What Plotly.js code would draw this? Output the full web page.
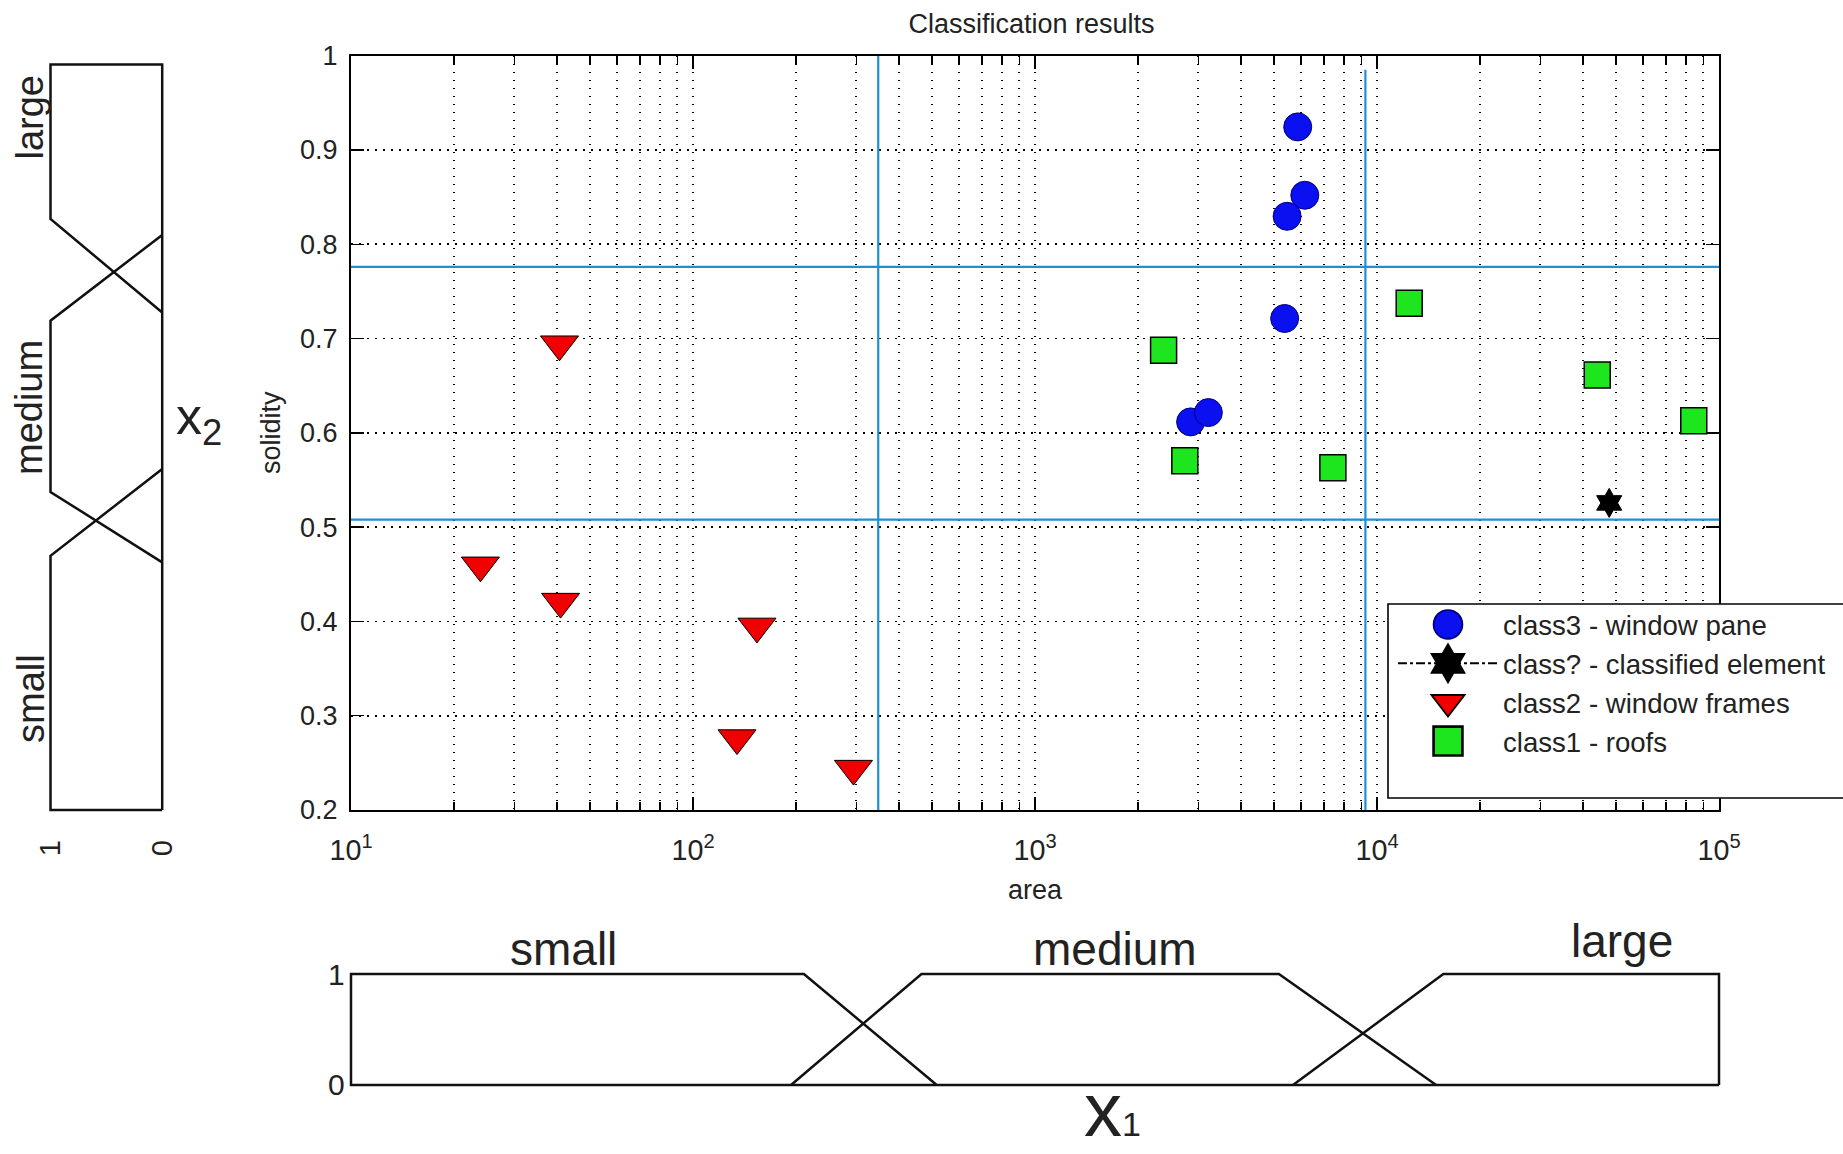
<!DOCTYPE html>
<html>
<head>
<meta charset="utf-8">
<script src="https://cdn.plot.ly/plotly-3.0.1.min.js"></script>
<style>
  html, body { margin: 0; padding: 0; background: #ffffff; }
  #chart { width: 1843px; height: 1154px; }
</style>
</head>
<body>
<div id="chart"></div>
<script>
// ---- measured objects: area (px^2) vs solidity ----
const areaClass3 = [5864, 6150, 5460, 5370, 2851, 3213];
const solidityClass3 = [0.9245, 0.852, 0.8297, 0.7213, 0.6116, 0.6215];

const areaUnknown = [47750];
const solidityUnknown = [0.5257];

const areaClass2 = [40.7, 23.9, 41.0, 153.8, 134.5, 294.6];
const solidityClass2 = [0.694, 0.4595, 0.421, 0.3947, 0.2763, 0.2439];

const areaClass1 = [2377, 2742, 7430, 12420, 44060, 84370];
const solidityClass1 = [0.6876, 0.5704, 0.563, 0.7374, 0.6614, 0.6128];

const legendNames = [
  'class3 - window pane',
  'class? - classified element',
  'class2 - window frames',
  'class1 - roofs'
];

// ---- decision thresholds (crossings of the membership functions) ----
const areaCuts = [348, 9250];
const solidityCuts = [0.508, 0.776];

// ---- fuzzy membership functions for x1 = area ----
const areaSmallMF = [516, 211, 10, 10, 100000];
const muSmallMF = [0, 1, 1, 0, 0];
const areaMediumMF = [193.5, 465.7, 5165, 14890];
const muMediumMF = [0, 1, 1, 0];
const areaLargeMF = [5680, 15630, 100000, 100000];
const muLargeMF = [0, 1, 1, 0];

// ---- fuzzy membership functions for x2 = solidity ----
const solidityLargeMF = [0.2, 0.9906, 0.9906, 0.8268, 0.7277];
const muLargeMF2 = [0, 0, 1, 1, 0];
const solidityMediumMF = [0.8099, 0.719, 0.5373, 0.4626];
const muMediumMF2 = [0, 1, 1, 0];
const soliditySmallMF = [0.5617, 0.4695, 0.2, 0.2];
const muSmallMF2 = [0, 1, 1, 0];

const membershipTicks = [0, 1];
const membershipTickText = ['0', '1'];
const termLabels = ['small', 'medium', 'large'];

// ---- page geometry helpers (pixels -> paper fractions) ----
const W = 1843, H = 1154;
const fx = px => px / W;
const fy = py => 1 - py / H;

const FONT = 'Liberation Sans, Arial, Helvetica, sans-serif';
const INK = '#222222';
const CUT_BLUE = '#1e8fd0';
const MF_STYLE = { color: '#111111', width: 2.5 };
const GRID = { gridcolor: '#000000', gridwidth: 1.7, griddash: '1.7px,6.3px' };

const traces = [];

// threshold lines on the main axes
traces.push({
  x: [areaCuts[0], areaCuts[0]], y: [0.2, 1.0], mode: 'lines',
  line: { color: CUT_BLUE, width: 2.2 }, showlegend: false, hoverinfo: 'skip'
});
traces.push({
  x: [areaCuts[1], areaCuts[1]], y: [0.2, 0.985], mode: 'lines',
  line: { color: CUT_BLUE, width: 2.2 }, showlegend: false, hoverinfo: 'skip'
});
solidityCuts.forEach(s => traces.push({
  x: [10, 100000], y: [s, s], mode: 'lines',
  line: { color: CUT_BLUE, width: 2.2 }, showlegend: false, hoverinfo: 'skip'
}));

// class markers
traces.push({
  x: areaClass3, y: solidityClass3, name: legendNames[0], mode: 'markers',
  marker: { symbol: 'circle', size: 28, color: '#0a10f0', line: { color: '#00007a', width: 1 } }
});
traces.push({
  x: areaUnknown, y: solidityUnknown, name: legendNames[1], mode: 'lines+markers',
  line: { color: '#000000', width: 2, dash: 'dashdot' },
  marker: { symbol: 'hexagram', size: 22, color: '#000000', line: { color: '#000000', width: 1 } }
});
traces.push({
  x: areaClass2, y: solidityClass2, name: legendNames[2], mode: 'markers',
  marker: { symbol: 'triangle-down', size: 33, color: '#f00000', line: { color: '#000000', width: 1 } }
});
traces.push({
  x: areaClass1, y: solidityClass1, name: legendNames[3], mode: 'markers',
  marker: { symbol: 'square', size: 26, color: '#1ee61e', line: { color: '#000000', width: 1.5 } }
});

// membership functions of area (bottom strip)
[[areaSmallMF, muSmallMF], [areaMediumMF, muMediumMF], [areaLargeMF, muLargeMF]].forEach(([a, m]) => {
  traces.push({ x: a, y: m, xaxis: 'x2', yaxis: 'y2', mode: 'lines', line: MF_STYLE,
    showlegend: false, hoverinfo: 'skip' });
});

// membership functions of solidity (left strip)
[[muLargeMF2, solidityLargeMF], [muMediumMF2, solidityMediumMF], [muSmallMF2, soliditySmallMF]].forEach(([m, s]) => {
  traces.push({ x: m, y: s, xaxis: 'x3', yaxis: 'y3', mode: 'lines', line: MF_STYLE,
    showlegend: false, hoverinfo: 'skip' });
});

const layout = {
  width: W, height: H,
  margin: { l: 0, r: 0, t: 0, b: 0 },
  paper_bgcolor: '#ffffff', plot_bgcolor: '#ffffff',
  font: { family: FONT, color: INK, size: 27 },
  showlegend: true,
  title: {
    text: 'Classification results', font: { size: 27, color: INK },
    x: fx(1031.5), xanchor: 'center', y: fy(24), yanchor: 'middle', xref: 'paper', yref: 'paper'
  },
  xaxis: {
    type: 'log', range: [1, 5], domain: [fx(351), fx(1719)], anchor: 'y',
    dtick: 1, exponentformat: 'power', labelalias: { '10': '10<sup>1</sup>' },
    tickfont: { size: 23, color: INK },
    ticks: 'inside', ticklen: 13, tickwidth: 1.5, tickcolor: '#000',
    showline: true, linecolor: '#000', linewidth: 2, mirror: 'ticks',
    showgrid: true, ...GRID, zeroline: false,
    minor: { dtick: 'D1', ticks: 'inside', ticklen: 8, tickwidth: 1.3, tickcolor: '#000',
             showgrid: true, ...GRID },
    ticklabelstandoff: 15,
    title: { text: 'area', font: { size: 27, color: INK }, standoff: 15 }
  },
  yaxis: {
    range: [0.2, 1], domain: [fy(810), fy(55.7)], anchor: 'x',
    tick0: 0.2, dtick: 0.1, tickfont: { size: 27, color: INK },
    ticks: 'inside', ticklen: 13, tickwidth: 1.5, tickcolor: '#000',
    showline: true, linecolor: '#000', linewidth: 2, mirror: 'ticks',
    showgrid: true, ...GRID, zeroline: false,
    ticklabelstandoff: 6,
    title: { text: 'solidity', font: { size: 27, color: INK }, standoff: 12 }
  },
  xaxis2: {
    type: 'log', range: [0.99, 5.01], domain: [fx(351 - 3.42), fx(1719 + 3.42)], anchor: 'y2',
    visible: false, showgrid: false, zeroline: false
  },
  yaxis2: {
    range: [-0.05, 1.05], domain: [fy(1090.5), fy(968.5)], anchor: 'x2',
    tickmode: 'array', tickvals: membershipTicks, ticktext: membershipTickText,
    ticks: '', showline: false, showgrid: false, zeroline: false,
    tickfont: { size: 30, color: INK }, ticklabelstandoff: 2
  },
  xaxis3: {
    range: [1.03, -0.03], domain: [fx(50.5 - 3.35), fx(162.2 + 3.35)], anchor: 'y3',
    tickmode: 'array', tickvals: membershipTicks, ticktext: membershipTickText,
    tickangle: -90, ticks: '', showline: false, showgrid: false, zeroline: false,
    tickfont: { size: 29, color: INK }, ticklabelstandoff: 14
  },
  yaxis3: {
    range: [0.19, 1], domain: [fy(819.4), fy(55.7)], anchor: 'x3',
    visible: false, showgrid: false, zeroline: false
  },
  legend: {
    x: fx(1393), y: fy(600), xanchor: 'left', yanchor: 'top',
    bgcolor: 'rgba(0,0,0,0)', borderwidth: 0,
    font: { size: 27.6, color: INK }, itemwidth: 100, tracegroupgap: 0
  },
  shapes: [{
    type: 'rect', xref: 'paper', yref: 'paper', layer: 'above',
    x0: fx(1388), x1: 1.02, y0: fy(798), y1: fy(604),
    line: { color: '#000', width: 1.6 }, fillcolor: '#ffffff'
  }],
  annotations: [
    { text: 'large', x: fx(29), y: fy(117.5), textangle: -90, font: { size: 38 } },
    { text: 'medium', x: fx(29), y: fy(408), textangle: -90, font: { size: 38 } },
    { text: 'small', x: fx(31), y: fy(699), textangle: -90, font: { size: 38 } },
    { text: 'x<sub>2</sub>', x: fx(174), y: fy(420), xanchor: 'left', yanchor: 'middle', font: { size: 52 } },
    { text: termLabels[0], x: fx(563), y: fy(949), font: { size: 46 } },
    { text: termLabels[1], x: fx(1115), y: fy(949), font: { size: 46 } },
    { text: termLabels[2], x: fx(1622), y: fy(941), font: { size: 46 } },
    { text: 'x<span style="font-size:34px">1</span>', x: fx(1083), y: fy(1153),
      xanchor: 'left', yanchor: 'bottom', borderpad: 0, font: { size: 76 } }
  ].map(a => Object.assign({ xref: 'paper', yref: 'paper', showarrow: false,
    xanchor: 'center', yanchor: 'middle' }, a, { font: Object.assign({ family: FONT, color: INK }, a.font) }))
};

Plotly.newPlot('chart', traces, layout, { displayModeBar: false, staticPlot: true }).then(gd => {
  // enlarge the legend symbols to the size of the plotted markers
  gd.querySelectorAll('.legend .legendpoints path.scatterpts').forEach(p => {
    const t = p.getAttribute('transform') || '';
    p.setAttribute('transform', t + ' scale(1.8)');
  });
});
</script>
</body>
</html>
